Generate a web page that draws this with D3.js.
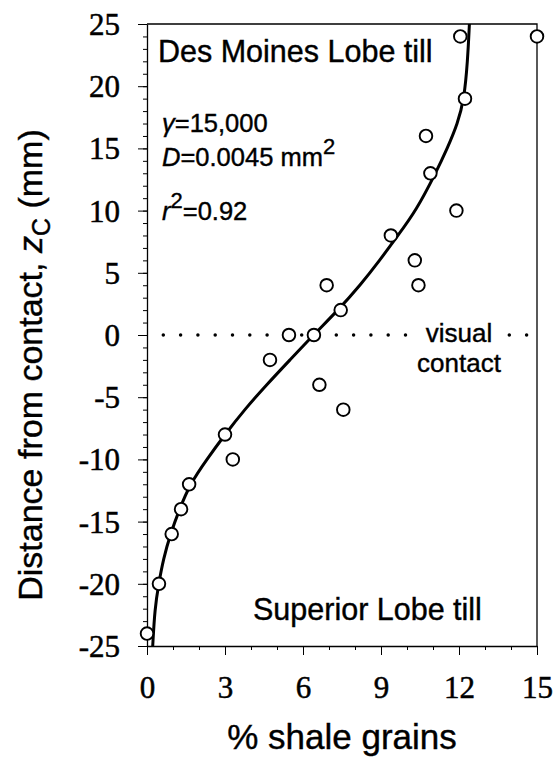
<!DOCTYPE html>
<html>
<head>
<meta charset="utf-8">
<script src="https://cdn.jsdelivr.net/npm/d3@7"></script>
<style>
body { margin: 0; background: #fff; }
.tick text { font-family: "Liberation Serif", "Times New Roman", serif; stroke: #000; stroke-width: 0.5px; }
.lbl { font-family: "Liberation Sans", Arial, sans-serif; fill: #000; stroke: #000; stroke-width: 0.4px; }
</style>
</head>
<body>
<div id="chart"></div>
<script>
// measured samples: % shale grains vs distance from contact (mm)
var shale = [12.05, 15, 12.23, 10.73, 10.9, 11.9, 9.38, 10.3, 10.44, 6.91, 7.45, 5.46, 6.42, 4.73, 6.63, 7.55, 3.0, 3.3, 1.62, 1.31, 0.95, 0.46, 0];
var dist  = [24, 24, 19, 16, 13, 10, 8, 6, 4, 4, 2, 0, 0, -2, -4, -6, -8, -10, -12, -14, -16, -20, -24];

// fitted curve
var fitZ = [-25, -22, -20, -18, -16, -14, -12, -10, -8, -6, -4, -2, 0, 2, 4, 6, 8, 10, 13, 15, 17, 19, 22, 25];
var fitX = [0.22, 0.3, 0.45, 0.63, 0.9, 1.25, 1.65, 2.3, 3.0, 3.75, 4.6, 5.5, 6.4, 7.35, 8.2, 8.95, 9.65, 10.35, 11.1, 11.55, 11.95, 12.2, 12.33, 12.4];

var xTicks = [0, 3, 6, 9, 12, 15];
var yTicks = [-25, -20, -15, -10, -5, 0, 5, 10, 15, 20, 25];

var W = 558, H = 758;
var margin = {top: 24, right: 21, bottom: 112, left: 147},
    width = W - margin.left - margin.right,
    height = H - margin.top - margin.bottom;

var xScale = d3.scaleLinear().domain([0, 15]).range([0, width]);
var yScale = d3.scaleLinear().domain([-25, 25]).range([height, 0]);

// plain hyphen for negatives, like the original
var fmt = function(d) { return String(d); };

var svg = d3.select("#chart").append("svg")
    .attr("width", W)
    .attr("height", H)
  .append("g")
    .attr("transform", "translate(" + margin.left + "," + margin.top + ")");

// minor ticks first so the major ones draw over them
svg.append("g")
    .attr("transform", "translate(0," + height + ")")
    .call(d3.axisBottom(xScale).ticks(15).tickSize(4).tickFormat(""))
    .call(function(g) { g.select(".domain").remove(); });
svg.append("g")
    .call(d3.axisLeft(yScale).ticks(50).tickSize(4).tickFormat(""))
    .call(function(g) { g.select(".domain").remove(); });

var xAxis = svg.append("g")
    .attr("transform", "translate(0," + height + ")")
    .call(d3.axisBottom(xScale).tickValues(xTicks).tickFormat(fmt).tickSize(9).tickPadding(21).tickSizeOuter(0));
xAxis.selectAll("text").style("font-size", "31px");

var yAxis = svg.append("g")
    .call(d3.axisLeft(yScale).tickValues(yTicks).tickFormat(fmt).tickSize(9).tickPadding(18).tickSizeOuter(0));
yAxis.selectAll("text").style("font-size", "31px").attr("dy", "0.34em");

svg.selectAll(".domain").attr("stroke-width", 1.3);

// frame on top and right
svg.append("path")
    .attr("d", "M0,0H" + width + "V" + height)
    .attr("fill", "none")
    .attr("stroke", "#000")
    .attr("stroke-width", 1.3);

// dotted "visual contact" line at z = 0
svg.append("line")
    .attr("x1", xScale(0)).attr("x2", xScale(15))
    .attr("y1", yScale(0)).attr("y2", yScale(0))
    .attr("stroke", "#000")
    .attr("stroke-width", 3.5)
    .attr("stroke-linecap", "round")
    .attr("stroke-dasharray", "0,17.3")
    .attr("stroke-dashoffset", -16.3);

svg.append("rect")
    .attr("x", 270).attr("y", yScale(0) - 12)
    .attr("width", 84).attr("height", 24)
    .attr("fill", "#fff");

svg.append("text").attr("class", "lbl")
    .attr("x", 312).attr("y", yScale(0) + 7)
    .attr("text-anchor", "middle")
    .style("font-size", "26px")
    .text("visual");
svg.append("text").attr("class", "lbl")
    .attr("x", 312).attr("y", yScale(0) + 37)
    .attr("text-anchor", "middle")
    .style("font-size", "26px")
    .text("contact");

// fitted curve
var fit = fitZ.map(function(z, i) { return {x: fitX[i], z: z}; });
var line = d3.line()
    .x(function(d) { return xScale(d.x); })
    .y(function(d) { return yScale(d.z); })
    .curve(d3.curveBasis);

svg.append("path")
    .datum(fit)
    .attr("d", line)
    .attr("fill", "none")
    .attr("stroke", "#000")
    .attr("stroke-width", 3);

// samples
svg.selectAll(".pt")
    .data(shale)
    .enter().append("circle")
    .attr("class", "pt")
    .attr("cx", function(d) { return xScale(d); })
    .attr("cy", function(d, i) { return yScale(dist[i]); })
    .attr("r", 6.3)
    .attr("fill", "#fff")
    .attr("stroke", "#000")
    .attr("stroke-width", 1.9);

// annotations
svg.append("text").attr("class", "lbl")
    .attr("x", 11).attr("y", 38)
    .style("font-size", "30.5px")
    .text("Des Moines Lobe till");

svg.append("text").attr("class", "lbl")
    .attr("x", 106).attr("y", 596)
    .style("font-size", "30.5px")
    .text("Superior Lobe till");

var t1 = svg.append("text").attr("class", "lbl")
    .attr("x", 15).attr("y", 108)
    .style("font-size", "25.5px");
t1.append("tspan").style("font-style", "italic").text("\u03b3");
t1.append("tspan").text("=15,000");

var t2 = svg.append("text").attr("class", "lbl")
    .attr("x", 15).attr("y", 142)
    .style("font-size", "25.5px");
t2.append("tspan").style("font-style", "italic").text("D");
t2.append("tspan").text("=0.0045 mm");
t2.append("tspan").attr("dy", -12).style("font-size", "22px").text("2");

var t3 = svg.append("text").attr("class", "lbl")
    .attr("x", 15).attr("y", 196)
    .style("font-size", "25.5px");
t3.append("tspan").style("font-style", "italic").text("r");
t3.append("tspan").attr("dy", -12).style("font-size", "22px").text("2");
t3.append("tspan").attr("dy", 12).text("=0.92");

// axis titles
svg.append("text").attr("class", "lbl")
    .attr("x", width / 2).attr("y", height + 103)
    .attr("text-anchor", "middle")
    .style("font-size", "35px")
    .text("% shale grains");

var yl = svg.append("text").attr("class", "lbl")
    .attr("transform", "translate(" + (42 - margin.left) + "," + (height / 2 + 30) + ") rotate(-90)")
    .attr("text-anchor", "middle")
    .style("font-size", "34px");
yl.append("tspan").text("Distance from contact, ");
yl.append("tspan").style("font-style", "italic").text("z");
yl.append("tspan").attr("dy", 8).style("font-size", "25px").text("C");
yl.append("tspan").attr("dy", -8).text(" (mm)");
</script>
</body>
</html>
